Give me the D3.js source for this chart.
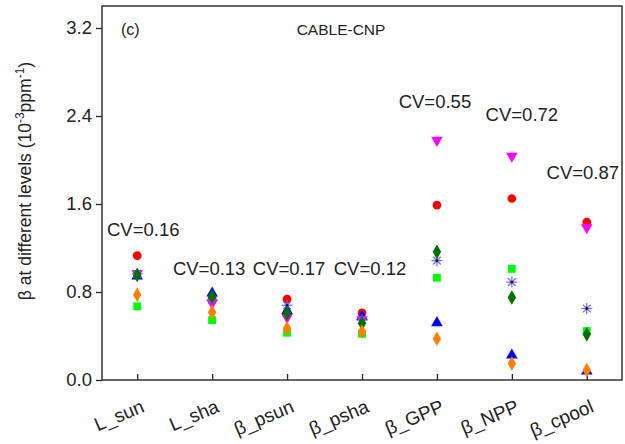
<!DOCTYPE html>
<html><head><meta charset="utf-8">
<script src="https://cdn.jsdelivr.net/npm/d3@7"></script>
<style>body{margin:0;background:#fff}svg{display:block;font-family:"Liberation Sans",Arial,sans-serif}</style>
</head><body><svg id="c" width="625" height="444"></svg>
<script>
const categories = ["L_sun","L_sha","β_psun","β_psha","β_GPP","β_NPP","β_cpool"];
const redCircle     = [1.13, 0.75, 0.735, 0.61, 1.59, 1.65, 1.435];
const blueUp        = [0.945, 0.79, 0.63, 0.575, 0.52, 0.225, 0.08];
const magentaDown   = [0.97, 0.70, 0.57, 0.55, 2.18, 2.035, 1.385];
const navyStar      = [0.965, 0.73, 0.68, 0.545, 1.085, 0.89, 0.65];
const limeSquare    = [0.67, 0.545, 0.43, 0.42, 0.93, 1.01, 0.445];
const dkGreenDiam   = [0.955, 0.76, 0.605, 0.515, 1.165, 0.75, 0.415];
const orangeDiam    = [0.775, 0.615, 0.47, 0.44, 0.375, 0.15, 0.09];
const yTicks = [0, 0.8, 1.6, 2.4, 3.2];
const cvLabels = ["CV=0.16","CV=0.13","CV=0.17","CV=0.12","CV=0.55","CV=0.72","CV=0.87"];
const cvLevels = [1.31, 0.955, 0.955, 0.955, 2.47, 2.355, 1.83];

const series = [
  {vals: redCircle, sym: d3.symbolCircle, size: 60, fill: "#ff0000"},
  {vals: blueUp, sym: d3.symbolTriangle, size: 58, fill: "#0000ff"},
  {vals: magentaDown, sym: d3.symbolTriangle, size: 58, fill: "#ff00ff", rot: 180},
  {vals: navyStar, star: true, fill: "#2020a0"},
  {vals: limeSquare, sym: d3.symbolSquare, size: 62, fill: "#00ff00"},
  {vals: dkGreenDiam, sym: d3.symbolDiamond, size: 62, fill: "#007000"},
  {vals: orangeDiam, sym: d3.symbolDiamond, size: 62, fill: "#ff8000"}
];

const svg = d3.select("#c");
const L = 102, R = 622, T = 6, B = 380;
const x = d3.scalePoint().domain(categories).range([L, R]).padding(0.47);
const y = d3.scaleLinear().domain([0, 3.4]).range([B, T]);
const font = "Liberation Sans, Arial, sans-serif";

// y axis
const ya = svg.append("g").attr("transform", `translate(${L},0)`)
  .call(d3.axisLeft(y).tickValues(yTicks).tickFormat(d3.format(".1f")).tickSize(6).tickPadding(4));
ya.select(".domain").remove();
ya.selectAll("line").attr("stroke", "#222").attr("stroke-width", 1.3);
ya.selectAll("text").attr("font-size", 18.5).attr("font-family", font).attr("fill", "#222");

// x axis (ticks inside)
const xa = svg.append("g").attr("transform", `translate(0,${B})`)
  .call(d3.axisBottom(x).tickSize(-6).tickFormat(""));
xa.select(".domain").remove();
xa.selectAll("line").attr("stroke", "#222").attr("stroke-width", 1.3);
categories.forEach(c => {
  svg.append("text").attr("transform", `translate(${x(c)+3},${B+19}) rotate(-23)`)
    .attr("text-anchor", "end").attr("dy", "0.7em").attr("font-size", 19).attr("font-family", font)
    .attr("fill", "#222").text(c);
});

// frame
svg.append("rect").attr("x", L).attr("y", T).attr("width", R - L).attr("height", B - T)
  .attr("fill", "none").attr("stroke", "#333").attr("stroke-width", 1.5);

// y title
const yt = svg.append("text").attr("transform", `translate(31,${(T+B)/2 - 12}) rotate(-90)`)
  .attr("text-anchor", "middle").attr("font-size", 17.5).attr("font-family", font).attr("fill", "#222");
yt.append("tspan").text("β at different levels (10");
yt.append("tspan").attr("font-size", 12).attr("dy", -7).text("-3");
yt.append("tspan").attr("dy", 7).text("ppm");
yt.append("tspan").attr("font-size", 12).attr("dy", -7).text("-1");
yt.append("tspan").attr("dy", 7).text(")");

// panel texts
svg.append("text").attr("x", 121).attr("y", 35).attr("font-size", 16).attr("font-family", font).attr("fill", "#222").text("(c)");
svg.append("text").attr("x", 341).attr("y", 35).attr("text-anchor", "middle").attr("font-size", 15.5).attr("font-family", font).attr("fill", "#222").text("CABLE-CNP");

// CV labels
const cvShift = [6, -3, 2, 8, -2, 10, -4];
cvLabels.forEach((t, i) => {
  svg.append("text").attr("x", x(categories[i]) + cvShift[i]).attr("y", y(cvLevels[i]))
    .attr("text-anchor", "middle").attr("font-size", 18.5).attr("font-family", font).attr("fill", "#222").text(t);
});

// points
const g = svg.append("g");
series.forEach(s => {
  s.vals.forEach((v, i) => {
    const cx = x(categories[i]), cy = y(v);
    if (s.star) {
      const st = g.append("g").attr("transform", `translate(${cx},${cy})`);
      const r = 5.5;
      [0, 45, 90, 135].forEach(a => {
        const rad = a * Math.PI / 180;
        st.append("line").attr("x1", -r*Math.cos(rad)).attr("y1", -r*Math.sin(rad))
          .attr("x2", r*Math.cos(rad)).attr("y2", r*Math.sin(rad))
          .attr("stroke", "#6a6ad0").attr("stroke-width", 1.2);
      });
      st.append("circle").attr("r", 1.4).attr("fill", "#101070");
    } else {
      g.append("path").attr("d", d3.symbol().type(s.sym).size(s.size)())
        .attr("transform", `translate(${cx},${cy}) rotate(${s.rot || 0})`)
        .attr("fill", s.fill);
    }
  });
});
</script></body></html>
